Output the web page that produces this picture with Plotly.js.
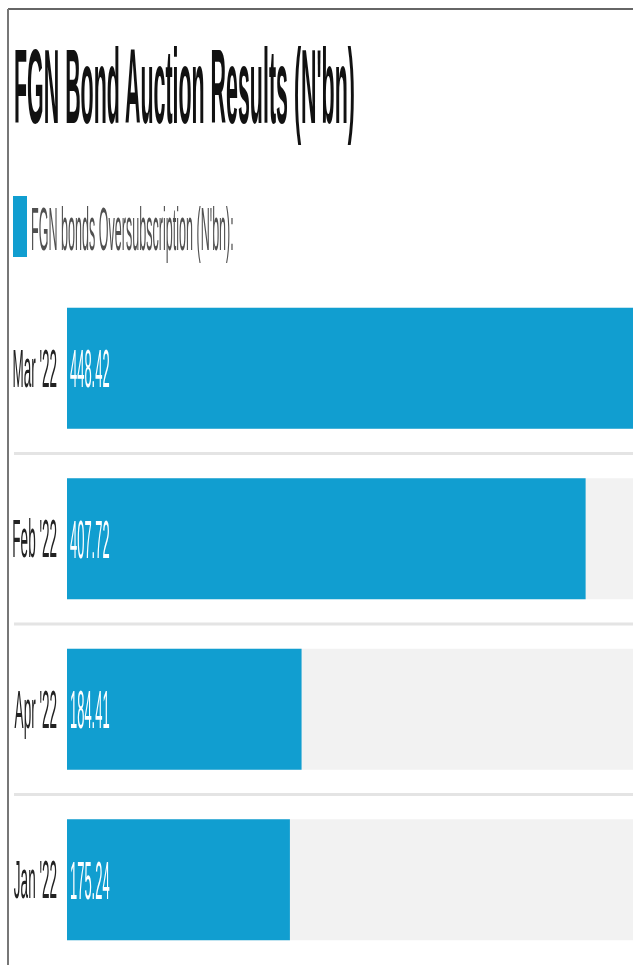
<!DOCTYPE html>
<html>
<head>
<meta charset="utf-8">
<script src="https://cdn.plot.ly/plotly-3.0.1.min.js"></script>
<style>
  html, body { margin: 0; padding: 0; background: #ffffff; }
  #chart { width: 633px; height: 965px; }
  #chart svg { will-change: transform; }
  #chart text { -webkit-font-smoothing: antialiased; }
</style>
</head>
<body>
<div id="chart"></div>
<script>
// ---- data ----
const chartTitle = "FGN Bond Auction Results (N'bn)";
const seriesName = "FGN bonds Oversubscription (N'bn):";
const categories = ["Mar '22", "Feb '22", "Apr '22", "Jan '22"];
const oversubscription = [448.42, 407.72, 184.41, 175.24];

// ---- styling ----
const FONT = "Liberation Sans, Arial, Helvetica, sans-serif";
const BLUE = "#119ed0";
const TRACK = "#f2f2f2";

const W = 633, H = 965;
const ML = 67, MT = 283, MR = 0, MB = 0;
const plotW = W - ML - MR, plotH = H - MT - MB;
const px = x => (x - ML) / plotW;          // pixel -> paper x
const py = y => (H - MB - y) / plotH;      // pixel -> paper y

const maxVal = Math.max(...oversubscription);

const track = {
  type: "bar", orientation: "h",
  y: categories,
  x: categories.map(() => maxVal),
  marker: { color: TRACK },
  hoverinfo: "skip", showlegend: false
};
const bars = {
  type: "bar", orientation: "h",
  name: seriesName,
  y: categories,
  x: oversubscription,
  marker: { color: BLUE },
  texttemplate: "%{x:.2f}",
  textposition: "inside",
  insidetextanchor: "start",
  textfont: { family: FONT, size: 54, color: "#ffffff" },
  constraintext: "none",
  showlegend: false
};

const shapes = [
  // frame (top and left rules)
  { type: "line", xref: "paper", yref: "paper", x0: px(8), x1: 1.01, y0: py(9), y1: py(9),
    line: { color: "#333333", width: 1.5 } },
  { type: "line", xref: "paper", yref: "paper", x0: px(8), x1: px(8), y0: py(9), y1: -0.01,
    line: { color: "#777777", width: 2 } },
  // legend swatch
  { type: "rect", xref: "paper", yref: "paper", x0: px(13), x1: px(27), y0: py(257), y1: py(196),
    fillcolor: BLUE, line: { width: 0 } }
];
// separators between categories
for (let i = 0; i < categories.length - 1; i++) {
  shapes.push({ type: "line", xref: "paper", yref: "y", x0: px(14), x1: 1.01, y0: i + 0.5, y1: i + 0.5,
    line: { color: "#e4e4e4", width: 3 }, layer: "below" });
}

const layout = {
  width: W, height: H,
  margin: { l: ML, r: MR, t: MT, b: MB, pad: 0 },
  paper_bgcolor: "#ffffff", plot_bgcolor: "#ffffff",
  barmode: "overlay", bargap: 0.29,
  showlegend: false,
  title: {
    text: "<b>" + chartTitle + "</b>",
    font: { family: FONT, size: 106, color: "#111111" },
    xref: "container", x: 14 / W, xanchor: "left",
    yref: "container", y: 1 - 86 / H, yanchor: "middle"
  },
  xaxis: { range: [0, plotW / 1.272], visible: false, fixedrange: true },
  yaxis: {
    type: "category", categoryorder: "array", categoryarray: categories,
    range: [categories.length - 0.5, -0.5],
    showgrid: false, zeroline: false, showline: false, ticks: "",
    ticklabelstandoff: 9, automargin: false,
    tickfont: { family: FONT, size: 53, color: "#222222" }
  },
  shapes: shapes,
  annotations: [{
    text: seriesName, showarrow: false,
    xref: "paper", yref: "paper", x: px(29), xanchor: "left", y: py(229), yanchor: "middle",
    font: { family: FONT, size: 61, color: "#505050" }
  }]
};

// condense text horizontally (the reference typography is very narrow)
function condense(sel, s, anchor) {
  document.querySelectorAll(sel).forEach(el => {
    const bb = el.getBBox();
    const ox = anchor === "end" ? bb.x + bb.width : bb.x;
    const t = el.getAttribute("transform") || "";
    el.setAttribute("transform", t + " translate(" + ox + ",0) scale(" + s + ",1) translate(" + (-ox) + ",0)");
  });
}

Plotly.newPlot("chart", [track, bars], layout, { displayModeBar: false, staticPlot: true }).then(() => {
  condense("#chart .gtitle", 0.202, "start");
  condense("#chart .annotation-text", 0.206, "start");
  condense("#chart .ytick text", 0.255, "end");
  condense("#chart .bartext", 0.24, "start");
});
</script>
</body>
</html>
